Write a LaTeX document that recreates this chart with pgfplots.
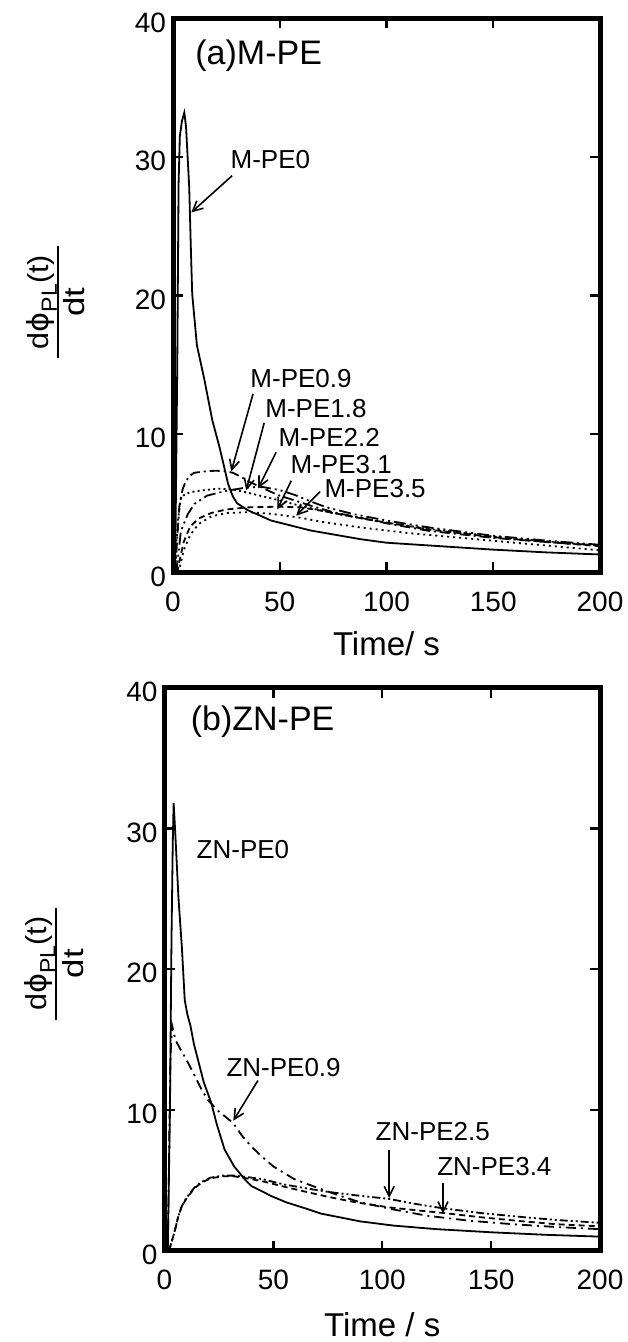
\documentclass[border=0pt]{standalone}
\usepackage{fontspec}
\setmainfont{Liberation Sans}
\newfontfamily\dejavu{DejaVu Sans}
\usepackage{pgfplots}
\pgfplotsset{compat=1.18}
\usetikzlibrary{arrows.meta}
\setlength{\arrayrulewidth}{1pt}

\pgfplotsset{
  panel/.style={
    scale only axis,
    xmin=0, xmax=200, ymin=0, ymax=40,
    xtick={0,50,100,150,200}, ytick={0,10,20,30,40},
    tick align=inside, tick pos=both,
    major tick length=5pt,
    axis line style={line width=2.5pt},
    every tick/.style={black, line width=1.2pt},
    tick label style={font=\fontsize{14}{14}\selectfont},
    /pgf/number format/assume math mode=true,
    yticklabel style={yshift=-2pt},
    xticklabel style={yshift=-6pt},
    xlabel style={font=\fontsize{16.5}{16.5}\selectfont},
  },
}
\tikzset{
  crv/.style={black, line width=0.9pt},
  ann/.style={black, line width=0.8pt, -{Straight Barb[length=5pt,width=5pt]}},
  lbl/.style={anchor=west, font=\fontsize{13}{13}\selectfont, inner sep=0pt},
}
% y label: d(phi_PL)/dt as a stacked fraction
\newcommand{\dphi}{\fontsize{14.5}{17}\selectfont
  \begin{tabular}{@{\hspace{4.5pt}}c@{\hspace{4.5pt}}}
  \scalebox{1.05}[1]{d{\dejavu ϕ}\raisebox{-0.55ex}{\fontsize{11}{11}\selectfont PL}(t)}\\[-1pt]\hline
  \rule{0pt}{13pt}\scalebox{1.2}[1]{dt}
  \end{tabular}}

\begin{document}
\begin{tikzpicture}
\path[use as bounding box] (0,0) rectangle (313.5pt,671pt);

% (a) M-PE
\begin{axis}[panel, at={(86.5pt,384.75pt)}, anchor=south west,
  width=213.5pt, height=277pt,
  xlabel={Time/ s},
  xlabel style={at={(axis description cs:0.5,0)}, anchor=center, yshift=-35.5pt},
  ylabel={\dphi},
  ylabel style={at={(axis description cs:-0.265,0.488)}, anchor=center},
]
\addplot[crv] coordinates {
 (1,0) (2,15) (2.6,28) (3.2,31.5) (4.2,32.6) (5.3,33.2) (6.1,32.2) (7.6,27.8) (8.4,23.2)
 (9,20.1) (11.2,16.4) (14.6,14) (18.4,11) (21.7,9.1) (24,7.6) (25.8,6.4) (28,5.5) (30,5.0)
 (35,4.5) (46,3.75) (64.5,3.03) (88,2.4) (100,2.15) (135,1.8) (150,1.65) (175,1.45) (200,1.3)
};
\addplot[crv, dash pattern=on 5pt off 2pt on 1pt off 2pt] coordinates {
 (1,0) (2,2.5) (3,4.8) (4.5,6.0) (6,6.6) (8,7.0) (10,7.2) (15,7.3) (20,7.35) (25,7.3)
 (28,7.2) (32,6.9) (35,6.6) (42,6.1) (49,5.6) (57,5.2) (65,4.8) (75,4.35) (88,3.95)
 (100,3.55) (120,3.0) (135,2.75) (150,2.5) (175,2.2) (200,1.95)
};
\addplot[crv, dash pattern=on 1pt off 1.6pt] coordinates {
 (1,0) (1.5,2) (2.5,4) (3.7,5.4) (6,5.7) (10,5.85) (15,5.95) (21,6.05) (28,6.0) (34,5.8)
 (42,5.5) (50,5.2) (60,4.8) (70,4.45) (85,4.0) (100,3.6) (120,3.15) (150,2.6) (175,2.25) (200,1.95)
};
\addplot[crv, dash pattern=on 6pt off 2pt on 1pt off 2pt on 1pt off 2pt] coordinates {
 (1.5,0) (2.5,1.3) (3.7,3.0) (6.9,4.2) (10,4.95) (16,5.55) (25,5.9) (33,6.1) (41,6.2)
 (50,5.95) (57,5.6) (65,5.1) (72,4.7) (85,4.2) (100,3.75) (120,3.25) (150,2.65) (175,2.3) (200,2.0)
};
\addplot[crv, dash pattern=on 3pt off 2pt] coordinates {
 (2,0) (3,0.8) (5,2.2) (8,3.3) (12,3.9) (18,4.3) (25,4.55) (35,4.7) (49,4.75) (60,4.7)
 (70,4.45) (85,4.0) (100,3.6) (120,3.1) (150,2.55) (175,2.2) (200,1.9)
};
\addplot[crv, dash pattern=on 1pt off 2pt] coordinates {
 (2.5,0) (3.5,0.6) (5,1.6) (8,2.7) (12,3.5) (18,4.05) (25,4.3) (35,4.35) (45,4.25) (58,4.0)
 (70,3.65) (88,3.25) (110,2.85) (135,2.5) (160,2.15) (200,1.6)
};
\node[anchor=west, inner sep=0pt, font=\fontsize{17}{17}\selectfont] at (axis cs:10.3,37.3) {(a)M-PE};
\node[lbl] at (axis cs:26.8,29.8) {M-PE0};
\draw[ann] (axis cs:27.7,28.65) -- (axis cs:8.6,26.0);
\node[lbl] at (axis cs:36.1,14.0) {M-PE0.9};
\draw[ann] (axis cs:37.5,12.9) -- (axis cs:27.3,7.3);
\node[lbl] at (axis cs:43.1,11.86) {M-PE1.8};
\draw[ann] (axis cs:42.7,10.8) -- (axis cs:34.3,5.93);
\node[lbl] at (axis cs:49.3,9.73) {M-PE2.2};
\draw[ann] (axis cs:48.3,8.67) -- (axis cs:39.9,6.08);
\node[lbl] at (axis cs:54.9,7.76) {M-PE3.1};
\draw[ann] (axis cs:55.4,6.63) -- (axis cs:48.9,4.56);
\node[lbl] at (axis cs:70.8,6.08) {M-PE3.5};
\draw[ann] (axis cs:68.9,5.84) -- (axis cs:57.7,4.1);
\end{axis}

% (b) ZN-PE
\begin{axis}[panel, at={(82.25pt,45.5pt)}, anchor=south west,
  width=217.75pt, height=281.75pt,
  xlabel={Time / s},
  xlabel style={at={(axis description cs:0.5,0)}, anchor=center, yshift=-37pt},
  ylabel={\dphi},
  ylabel style={at={(axis description cs:-0.244,0.51)}, anchor=center},
]
\addplot[crv] coordinates {
 (1.5,0) (2.5,10) (3.2,22) (3.8,29) (4.2,31.8) (5,29.5) (6.4,25.1) (8,21.5) (9.3,17.8)
 (10.5,16.8) (11.9,16.0) (13.5,14.7) (15.5,13.5) (18,12) (21.5,10.5) (24,9.0) (27.6,7.2)
 (32,6.0) (36.8,5.1) (40,4.6) (44.4,4.27) (49,3.9) (56,3.45) (65.8,2.97) (72,2.65) (90,2.1)
 (105.4,1.8) (125,1.55) (151,1.32) (175,1.15) (200,1.02)
};
\addplot[crv, dash pattern=on 5pt off 2.5pt on 1pt off 2.5pt] coordinates {
 (1.5,0) (2.2,8) (2.8,14) (3.5,16) (5,15) (7,14.4) (10,13.6) (13.7,12.5) (16.9,11.5) (20,10.7)
 (25,9.9) (31.4,9.1) (36,8.1) (40,7.4) (44.4,6.75) (50,6.0) (59.6,5.1) (70,4.5) (80,3.95)
 (90,3.45) (105,2.95) (120.7,2.5) (140,2.15) (160,1.9) (180,1.7) (200,1.55)
};
\addplot[crv, dash pattern=on 4pt off 1.5pt on 1pt off 1.5pt on 1pt off 1.5pt] coordinates {
 (2,0) (3,0.5) (4.5,1.3) (6.4,2.5) (8,3.2) (10,3.76) (13.7,4.5) (17,4.9) (21,5.2) (26.5,5.35)
 (32,5.35) (38,5.25) (45,5.1) (54,4.75) (65,4.45) (75,4.2) (88,3.95) (103,3.7) (115,3.35)
 (127,3.05) (145,2.7) (165,2.4) (180,2.2) (200,2.0)
};
\addplot[crv, dash pattern=on 3pt off 2pt] coordinates {
 (2,0) (3,0.5) (4.5,1.3) (6.4,2.5) (8,3.2) (10,3.7) (13.7,4.45) (17,4.85) (21,5.15) (26.5,5.3)
 (32,5.3) (38,5.15) (45,4.95) (54,4.6) (65,4.2) (75,3.85) (88,3.45) (103,3.1) (115,2.9)
 (128,2.7) (145,2.4) (165,2.1) (180,1.9) (200,1.75)
};
\node[anchor=west, inner sep=0pt, font=\fontsize{17}{17}\selectfont] at (axis cs:11.9,37.6) {(b)ZN-PE};
\node[lbl] at (axis cs:14.6,28.5) {ZN-PE0};
\node[lbl] at (axis cs:28.3,13.0) {ZN-PE0.9};
\draw[ann] (axis cs:42.9,12.1) -- (axis cs:31.6,9.25);
\node[lbl] at (axis cs:96.8,8.47) {ZN-PE2.5};
\draw[ann] (axis cs:103.2,7.2) -- (axis cs:103.2,3.76);
\node[lbl] at (axis cs:125.1,5.96) {ZN-PE3.4};
\draw[ann] (axis cs:127.9,4.86) -- (axis cs:127.9,2.67);
\end{axis}
\end{tikzpicture}
\end{document}
